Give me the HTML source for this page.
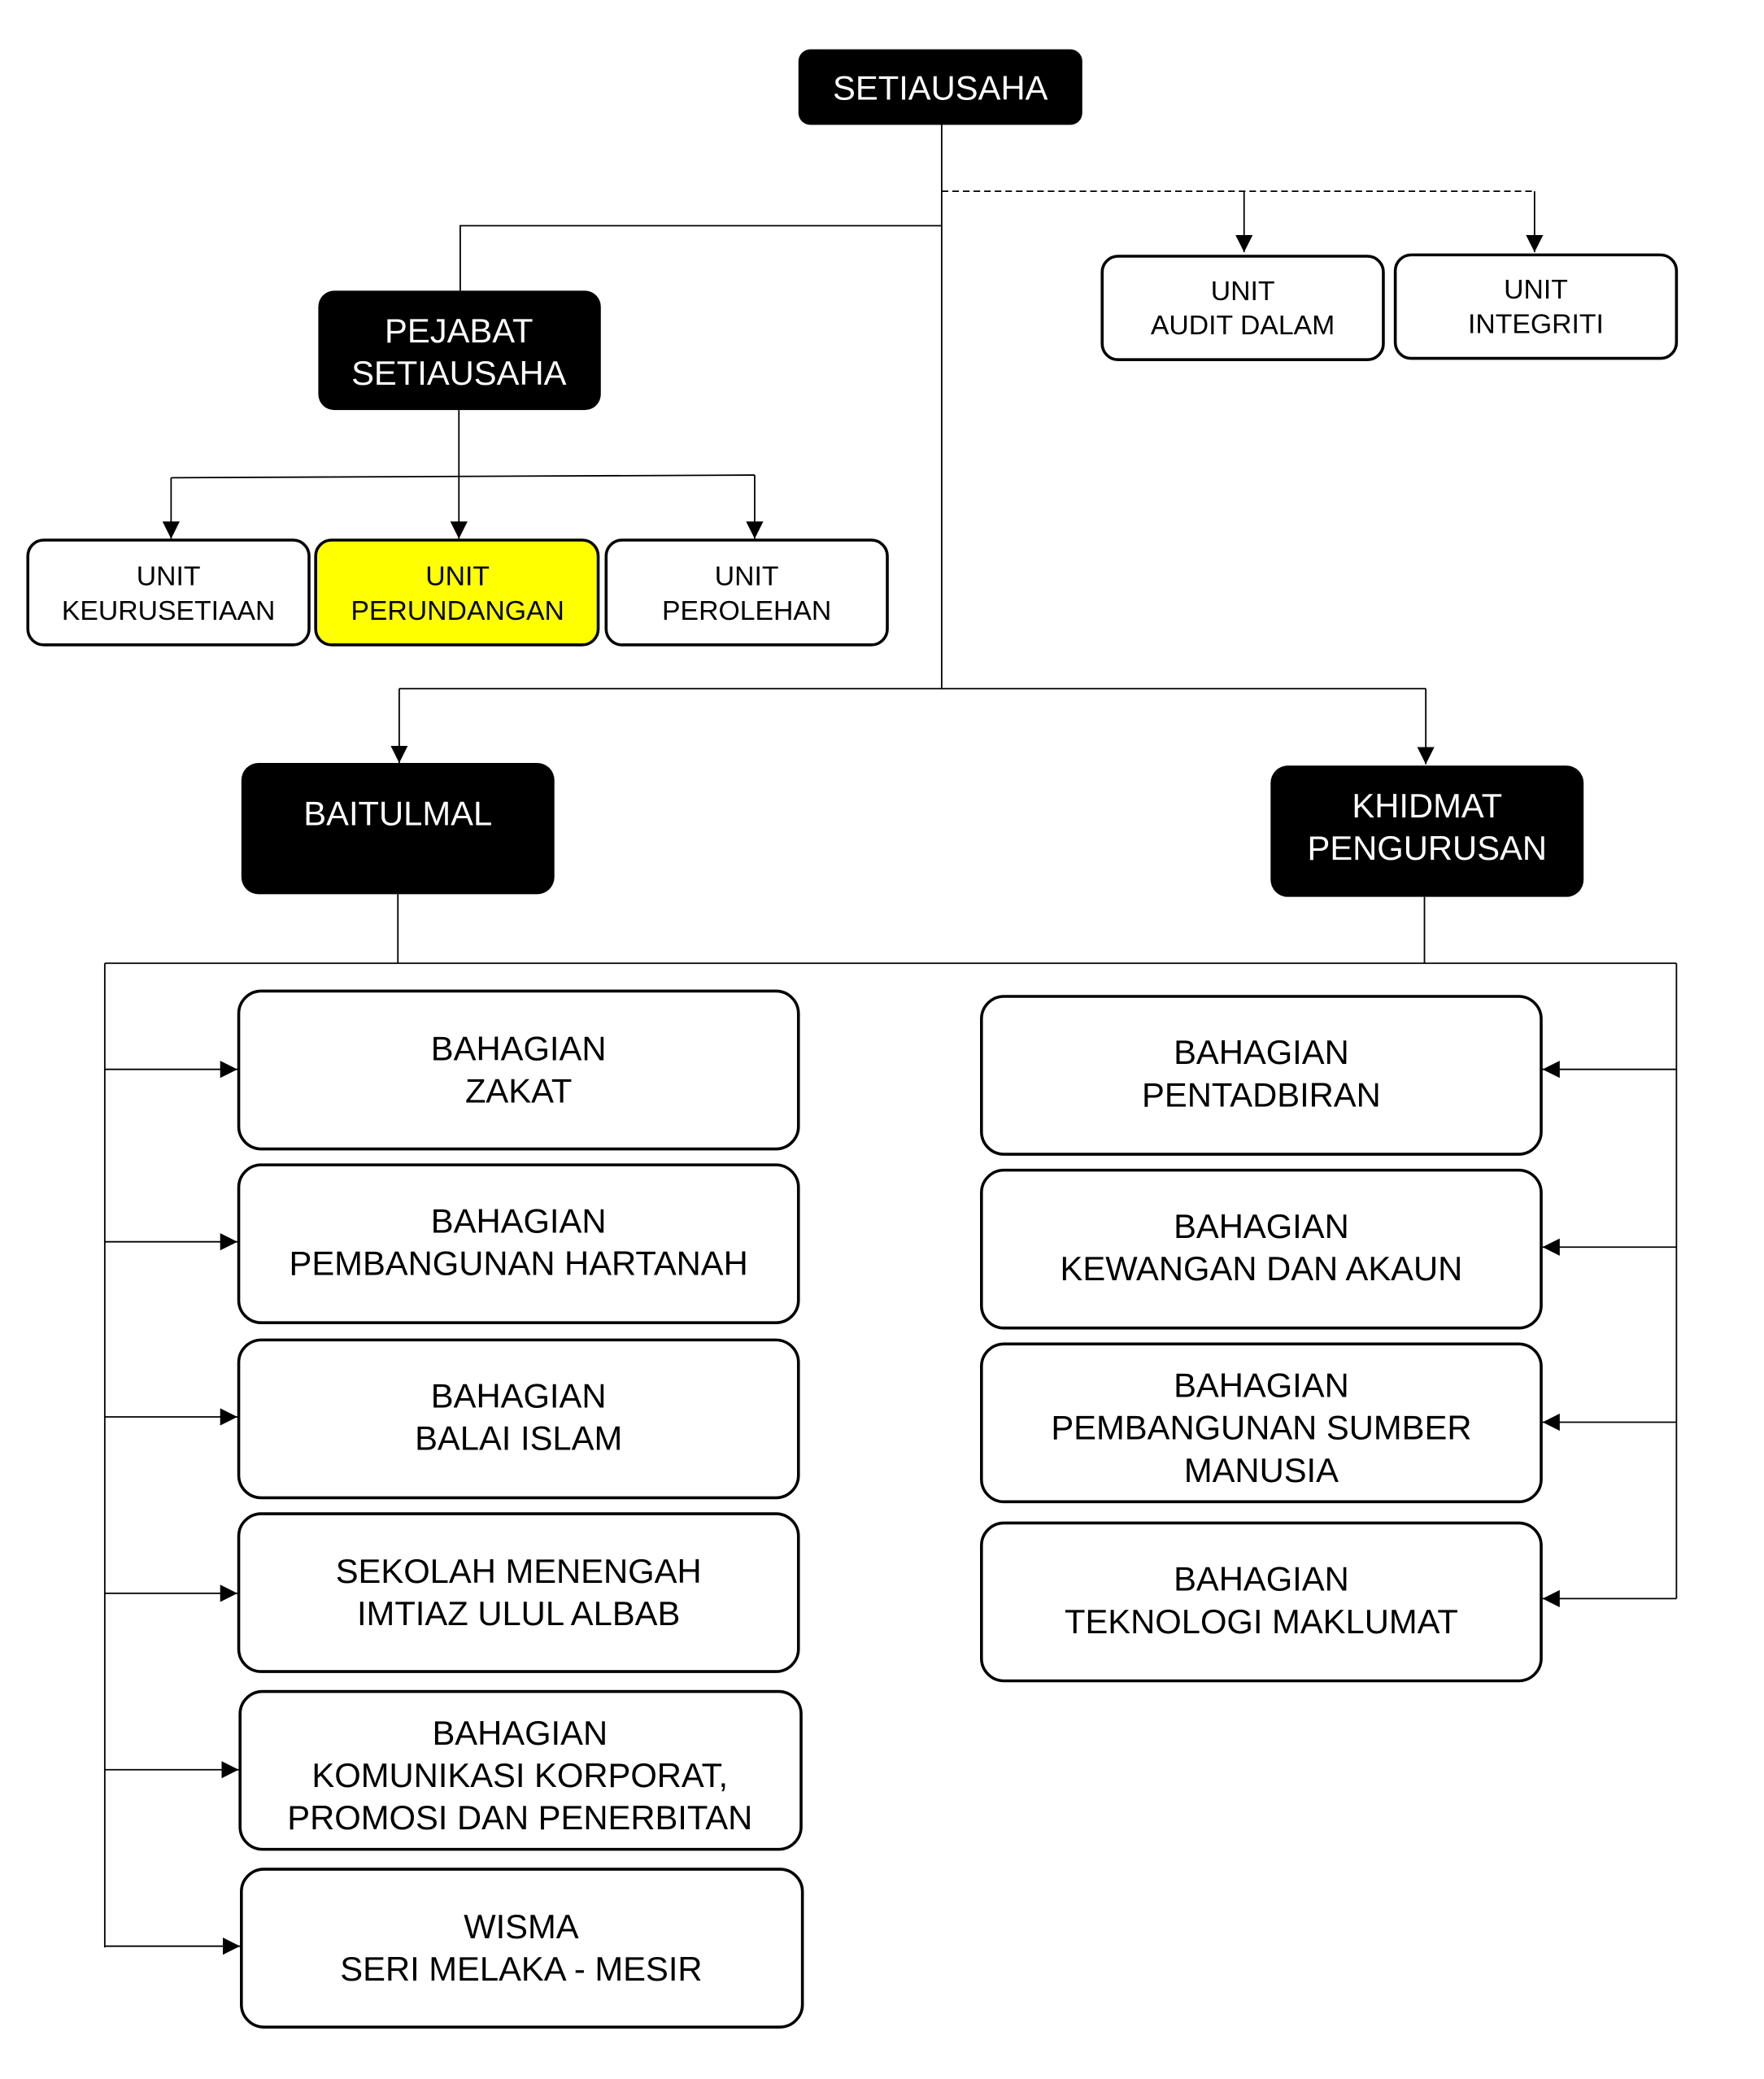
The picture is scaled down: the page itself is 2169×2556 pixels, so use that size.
<!DOCTYPE html>
<html><head><meta charset="utf-8"><style>
html,body{margin:0;padding:0;background:#fff;}
svg{display:block;}
text{font-family:"Liberation Sans",Arial,sans-serif;text-anchor:middle;}
</style></head><body>
<svg width="2169" height="2556" viewBox="0 0 1330 1567" xmlns="http://www.w3.org/2000/svg">
<defs>
<marker id="a" viewBox="0 0 10 10" refX="10" refY="5" markerWidth="13" markerHeight="13" markerUnits="userSpaceOnUse" orient="auto"><path d="M0,0L10,5L0,10z" fill="#000"/></marker>
</defs>
<rect width="1330" height="1567" fill="#fff"/>
<g stroke="#000" stroke-width="1.1" fill="none">
<line x1="710" y1="94" x2="710" y2="519"/>
<line x1="710" y1="144" x2="1157" y2="144" stroke-dasharray="5,3"/>
<line x1="938" y1="144" x2="938" y2="190" marker-end="url(#a)"/>
<line x1="1157" y1="144" x2="1157" y2="190" marker-end="url(#a)"/>
<polyline points="710,170 347,170 347,219"/>
<line x1="346" y1="309" x2="346" y2="406" marker-end="url(#a)"/>
<line x1="129" y1="360" x2="569" y2="358"/>
<line x1="129" y1="360" x2="129" y2="406" marker-end="url(#a)"/>
<line x1="569" y1="358" x2="569" y2="406" marker-end="url(#a)"/>
<line x1="301" y1="519" x2="1075" y2="519"/>
<line x1="301" y1="519" x2="301" y2="575" marker-end="url(#a)"/>
<line x1="1075" y1="519" x2="1075" y2="576" marker-end="url(#a)"/>
<line x1="300" y1="674" x2="300" y2="726"/>
<line x1="1074" y1="676" x2="1074" y2="726"/>
<line x1="79" y1="726" x2="1264" y2="726"/>
<line x1="79" y1="726" x2="79" y2="1468"/>
<line x1="1264" y1="726" x2="1264" y2="1205"/>
<line x1="79" y1="806" x2="179" y2="806" marker-end="url(#a)"/>
<line x1="79" y1="936" x2="179" y2="936" marker-end="url(#a)"/>
<line x1="79" y1="1068" x2="179" y2="1068" marker-end="url(#a)"/>
<line x1="79" y1="1201" x2="179" y2="1201" marker-end="url(#a)"/>
<line x1="79" y1="1334" x2="180" y2="1334" marker-end="url(#a)"/>
<line x1="79" y1="1467" x2="181" y2="1467" marker-end="url(#a)"/>
<line x1="1264" y1="806" x2="1163" y2="806" marker-end="url(#a)"/>
<line x1="1264" y1="940" x2="1163" y2="940" marker-end="url(#a)"/>
<line x1="1264" y1="1072" x2="1163" y2="1072" marker-end="url(#a)"/>
<line x1="1264" y1="1205" x2="1163" y2="1205" marker-end="url(#a)"/>
</g>
<g fill="#000">
<rect x="602" y="37" width="214" height="57" rx="9"/>
<rect x="240" y="219" width="213" height="90" rx="12"/>
<rect x="182" y="575" width="236" height="99" rx="13"/>
<rect x="958" y="577" width="236" height="99" rx="13"/>
</g>
<g fill="#fff" font-size="25.6">
<text x="709" y="75">SETIAUSAHA</text>
<text x="346" y="258">PEJABAT</text>
<text x="346" y="290">SETIAUSAHA</text>
<text x="300" y="622">BAITULMAL</text>
<text x="1076" y="616">KHIDMAT</text>
<text x="1076" y="648">PENGURUSAN</text>
</g>
<g stroke="#000" stroke-width="2.2" fill="#fff">
<rect x="831" y="193" width="212" height="78" rx="12"/>
<rect x="1052" y="192" width="212" height="78" rx="12"/>
<rect x="21" y="407" width="212" height="79" rx="12"/>
<rect x="238" y="407" width="213" height="79" rx="12" fill="#ffff00"/>
<rect x="457" y="407" width="212" height="79" rx="12"/>
<rect x="180" y="747" width="422" height="119" rx="17"/>
<rect x="180" y="878" width="422" height="119" rx="17"/>
<rect x="180" y="1010" width="422" height="119" rx="17"/>
<rect x="180" y="1141" width="422" height="119" rx="17"/>
<rect x="181" y="1275" width="423" height="119" rx="17"/>
<rect x="182" y="1409" width="423" height="119" rx="17"/>
<rect x="740" y="751" width="422" height="119" rx="17"/>
<rect x="740" y="882" width="422" height="119" rx="17"/>
<rect x="740" y="1013" width="422" height="119" rx="17"/>
<rect x="740" y="1148" width="422" height="119" rx="17"/>
</g>
<g fill="#000" font-size="20.7">
<text x="937" y="226">UNIT</text><text x="937" y="252">AUDIT DALAM</text>
<text x="1158" y="225">UNIT</text><text x="1158" y="251">INTEGRITI</text>
<text x="127" y="441">UNIT</text><text x="127" y="467">KEURUSETIAAN</text>
<text x="345" y="441">UNIT</text><text x="345" y="467">PERUNDANGAN</text>
<text x="563" y="441">UNIT</text><text x="563" y="467">PEROLEHAN</text>
</g>
<g fill="#000" font-size="25.6">
<text x="391" y="799">BAHAGIAN</text><text x="391" y="831">ZAKAT</text>
<text x="391" y="929">BAHAGIAN</text><text x="391" y="961">PEMBANGUNAN HARTANAH</text>
<text x="391" y="1061">BAHAGIAN</text><text x="391" y="1093">BALAI ISLAM</text>
<text x="391" y="1193">SEKOLAH MENENGAH</text><text x="391" y="1225">IMTIAZ ULUL ALBAB</text>
<text x="392" y="1315">BAHAGIAN</text><text x="392" y="1347">KOMUNIKASI KORPORAT,</text><text x="392" y="1379">PROMOSI DAN PENERBITAN</text>
<text x="393" y="1461">WISMA</text><text x="393" y="1493">SERI MELAKA - MESIR</text>
<text x="951" y="802">BAHAGIAN</text><text x="951" y="834">PENTADBIRAN</text>
<text x="951" y="933">BAHAGIAN</text><text x="951" y="965">KEWANGAN DAN AKAUN</text>
<text x="951" y="1053">BAHAGIAN</text><text x="951" y="1085">PEMBANGUNAN SUMBER</text><text x="951" y="1117">MANUSIA</text>
<text x="951" y="1199">BAHAGIAN</text><text x="951" y="1231">TEKNOLOGI MAKLUMAT</text>
</g>
</svg>
</body></html>
